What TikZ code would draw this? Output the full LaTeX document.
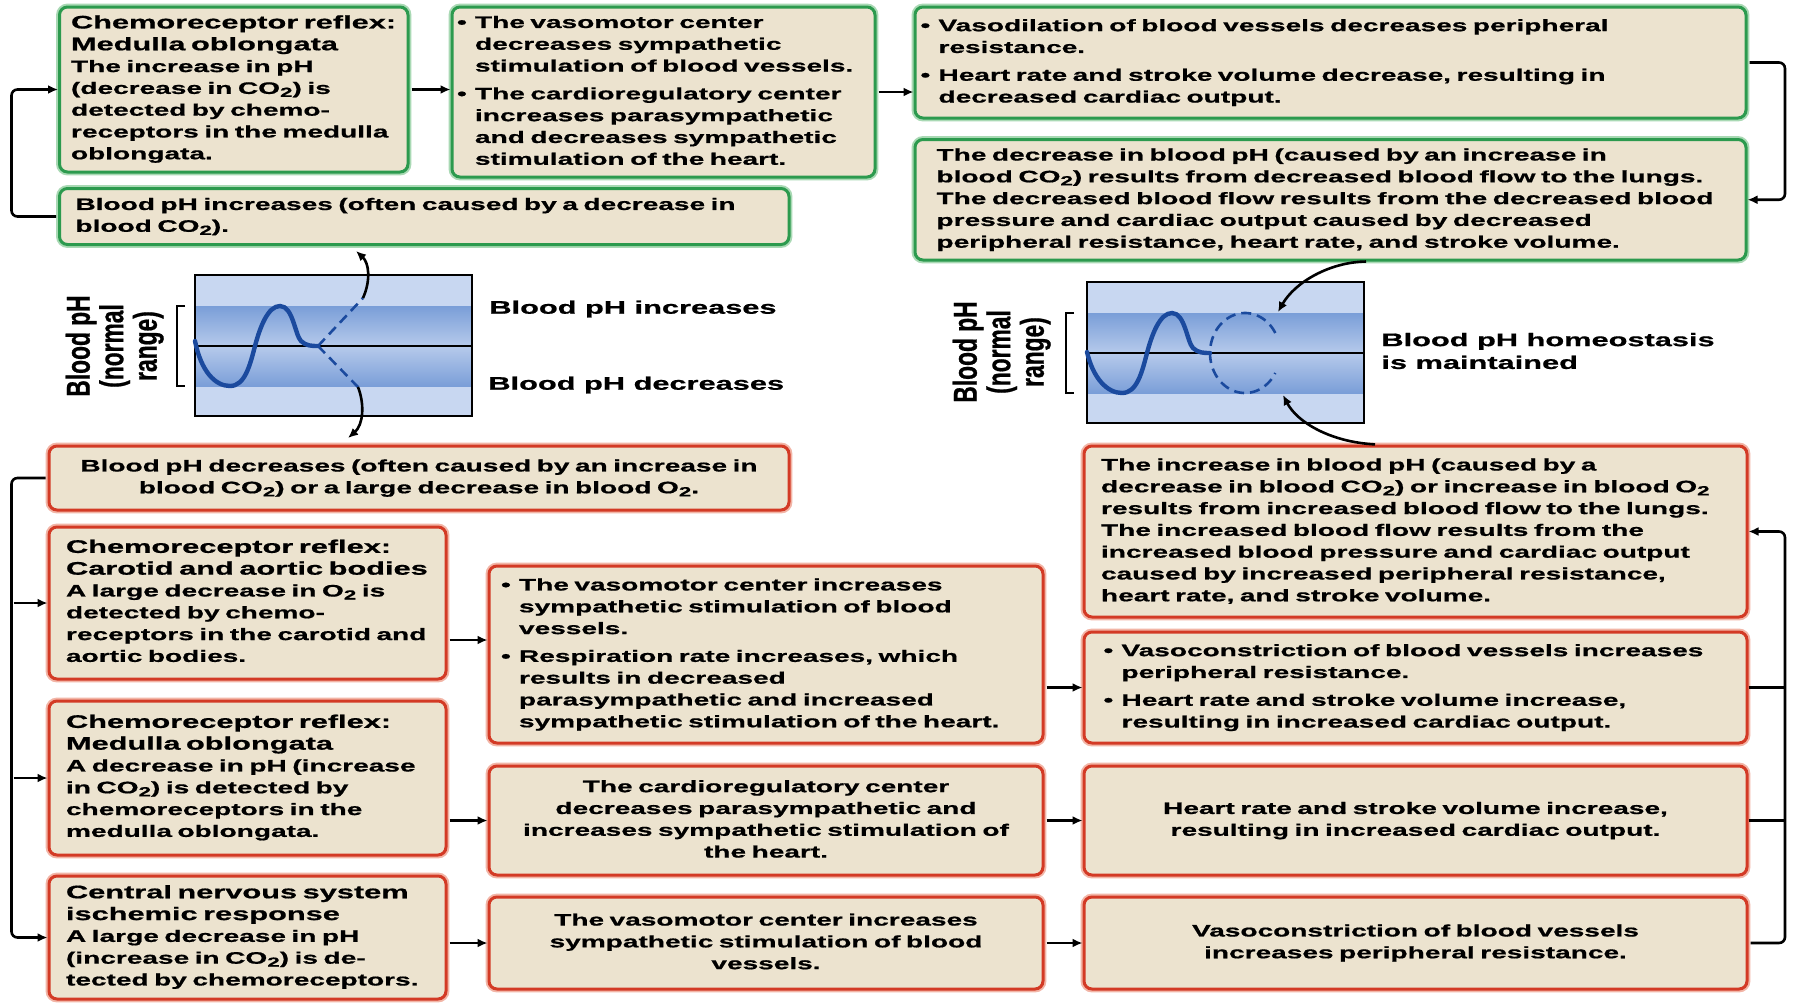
\documentclass[tikz,border=0pt]{standalone}
\usepackage{fontspec}
\usepackage{graphicx}
\usetikzlibrary{arrows.meta,calc}
\newfontfamily\widesans{Liberation Sans}[FakeStretch=1.69, FakeBold=0.8]
\newfontfamily\plainsans{Liberation Sans}[FakeBold=0.8]
\newcommand\subtwo{\raisebox{-0.35ex}{\scalebox{0.8}{2}}}
\newcommand\hd[1]{{\fontsize{9.1}{11.4}\selectfont #1}}
\newcommand\bu{\makebox[9pt][l]{\textbullet}}
\definecolor{boxfill}{HTML}{ECE3CF}
\definecolor{grnline}{HTML}{2C9A4E}
\definecolor{grnglow}{HTML}{A9D9B4}
\definecolor{redline}{HTML}{D33A25}
\definecolor{redglow}{HTML}{F2B5A6}
\definecolor{bandlight}{HTML}{C8D7F1}
\definecolor{banddark}{HTML}{7A9ED8}
\definecolor{bandmid}{HTML}{B6CAEB}
\definecolor{wavecol}{HTML}{1B4A9E}
\tikzset{
  txt/.style={font=\widesans\bfseries\fontsize{8.3}{10.9}\selectfont},
  hdtxt/.style={font=\widesans\bfseries\fontsize{9.1}{11.4}\selectfont, inner sep=0pt},
  box/.style={txt, rounded corners=4pt, fill=boxfill, line width=1.5pt, inner ysep=0pt, anchor=center},
  gbox/.style={box, draw=grnline, preaction={draw=grnglow, line width=3.4pt}},
  rbox/.style={box, draw=redline, preaction={draw=redglow, line width=3.4pt}},
  conn/.style={line width=1.3pt, rounded corners=3pt},
  arr/.style={conn, -{Latex[length=5pt,width=4.5pt]}, shorten <=1pt},
  wavepen/.style={draw=wavecol, line width=2.2pt, line cap=round},
  dashpen/.style={draw=wavecol, line width=1.3pt, dash pattern=on 5pt off 3pt},
  ylab/.style={rotate=90, inner sep=0pt, font=\plainsans\bfseries\fontsize{11.4}{11}\selectfont},
}
\begin{document}
\begin{tikzpicture}[x=0.5pt, y=-0.5pt]
\fill[white] (0,0) rectangle (1793,1002);
\useasboundingbox (0,0) rectangle (1793,1002);

% ---------- upper (green) loop ----------
\node[gbox, minimum width=174.25pt, minimum height=82.5pt, text width=162.75pt, inner xsep=5.75pt, align=left] (A) at (233.75,89.5)
 {\begin{tabular}{@{}l@{}}\hd{Chemoreceptor reflex:}\\ \hd{Medulla oblongata}\\ The increase in pH\\ (decrease in CO\subtwo) is\\ detected by chemo-\\ receptors in the medulla\\ oblongata.\end{tabular}};
\node[gbox, minimum width=211.5pt, minimum height=85pt, text width=206.5pt, inner xsep=2.5pt, align=left] (B) at (663.5,92)
 {\begin{tabular}{@{}l@{}l@{}}\bu&The vasomotor center\\ &decreases sympathetic\\ &stimulation of blood vessels.\\[3pt] \bu&The cardioregulatory center\\ &increases parasympathetic\\ &and decreases sympathetic\\ &stimulation of the heart.\end{tabular}};
\node[gbox, minimum width=415.5pt, minimum height=55.5pt, text width=410pt, inner xsep=2.75pt, align=left] (C) at (1330.5,62.5)
 {\begin{tabular}{@{}l@{}l@{}}\bu&Vasodilation of blood vessels decreases peripheral\\ &resistance.\\[3pt] \bu&Heart rate and stroke volume decrease, resulting in\\ &decreased cardiac output.\end{tabular}};
\node[gbox, minimum width=415.5pt, minimum height=60.25pt, text width=394pt, inner xsep=10.75pt, align=left] (D) at (1330.5,199.75)
 {\begin{tabular}{@{}l@{}}The decrease in blood pH (caused by an increase in\\ blood CO\subtwo) results from decreased blood flow to the lungs.\\ The decreased blood flow results from the decreased blood\\ pressure and cardiac output caused by decreased\\ peripheral resistance, heart rate, and stroke volume.\end{tabular}};
\node[gbox, minimum width=364.75pt, minimum height=28pt, text width=348.75pt, inner xsep=8pt, align=left] (E) at (424.25,216.5)
 {\begin{tabular}{@{}l@{}}Blood pH increases (often caused by a decrease in\\ blood CO\subtwo).\end{tabular}};

% ---------- lower (red) loop ----------
\node[rbox, minimum width=370pt, minimum height=32pt, text width=354pt, inner xsep=8pt, align=center] (F) at (419,478)
 {\begin{tabular}{@{}c@{}}Blood pH decreases (often caused by an increase in\\ blood CO\subtwo) or a large decrease in blood O\subtwo.\end{tabular}};
\node[rbox, minimum width=198.5pt, minimum height=76pt, text width=181.5pt, inner xsep=8.5pt, align=left] (G) at (247.5,603)
 {\begin{tabular}{@{}l@{}}\hd{Chemoreceptor reflex:}\\ \hd{Carotid and aortic bodies}\\ A large decrease in O\subtwo{} is\\ detected by chemo-\\ receptors in the carotid and\\ aortic bodies.\end{tabular}};
\node[rbox, minimum width=198.5pt, minimum height=77pt, text width=181.5pt, inner xsep=8.5pt, align=left] (H) at (247.5,778)
 {\begin{tabular}{@{}l@{}}\hd{Chemoreceptor reflex:}\\ \hd{Medulla oblongata}\\ A decrease in pH (increase\\ in CO\subtwo) is detected by\\ chemoreceptors in the\\ medulla oblongata.\end{tabular}};
\node[rbox, minimum width=198.5pt, minimum height=61.5pt, text width=181.5pt, inner xsep=8.5pt, align=left] (I) at (247.5,937.5)
 {\begin{tabular}{@{}l@{}}\hd{Central nervous system}\\ \hd{ischemic response}\\ A large decrease in pH\\ (increase in CO\subtwo) is de-\\ tected by chemoreceptors.\end{tabular}};
\node[rbox, minimum width=277pt, minimum height=88.5pt, text width=265pt, inner xsep=6pt, align=left] (J) at (766,654.5)
 {\begin{tabular}{@{}l@{}l@{}}\bu&The vasomotor center increases\\ &sympathetic stimulation of blood\\ &vessels.\\[3pt] \bu&Respiration rate increases, which\\ &results in decreased\\ &parasympathetic and increased\\ &sympathetic stimulation of the heart.\end{tabular}};
\node[rbox, minimum width=277pt, minimum height=54.5pt, text width=261pt, inner xsep=8pt, align=center] (K) at (766,820.5)
 {\begin{tabular}{@{}c@{}}The cardioregulatory center\\ decreases parasympathetic and\\ increases sympathetic stimulation of\\ the heart.\end{tabular}};
\node[rbox, minimum width=277pt, minimum height=46pt, text width=261pt, inner xsep=8pt, align=center] (L) at (766,943)
 {\begin{tabular}{@{}c@{}}The vasomotor center increases\\ sympathetic stimulation of blood\\ vessels.\end{tabular}};
\node[rbox, minimum width=331.5pt, minimum height=85.5pt, text width=314.5pt, inner xsep=8.5pt, align=left] (M) at (1415.5,531.5)
 {\begin{tabular}{@{}l@{}}The increase in blood pH (caused by a\\ decrease in blood CO\subtwo) or increase in blood O\subtwo\\ results from increased blood flow to the lungs.\\ The increased blood flow results from the\\ increased blood pressure and cardiac output\\ caused by increased peripheral resistance,\\ heart rate, and stroke volume.\end{tabular}};
\node[rbox, minimum width=331.5pt, minimum height=55.5pt, text width=312pt, inner xsep=9.75pt, align=left] (N) at (1415.5,687.5)
 {\begin{tabular}{@{}l@{}l@{}}\bu&Vasoconstriction of blood vessels increases\\ &peripheral resistance.\\[3pt] \bu&Heart rate and stroke volume increase,\\ &resulting in increased cardiac output.\end{tabular}};
\node[rbox, minimum width=331.5pt, minimum height=54.5pt, text width=315.5pt, inner xsep=8pt, align=center] (O) at (1415.5,820.5)
 {\begin{tabular}{@{}c@{}}Heart rate and stroke volume increase,\\ resulting in increased cardiac output.\end{tabular}};
\node[rbox, minimum width=331.5pt, minimum height=46pt, text width=315.5pt, inner xsep=8pt, align=center] (P) at (1415.5,943)
 {\begin{tabular}{@{}c@{}}Vasoconstriction of blood vessels\\ increases peripheral resistance.\end{tabular}};

% ---------- pH graphs ----------
\begin{scope}[shift={(195,275)}]
  \fill[bandlight] (0,0) rectangle (277,141);
  \shade[top color=banddark, bottom color=bandmid] (0,31) rectangle (277,71);
  \shade[top color=bandmid, bottom color=banddark] (0,71) rectangle (277,111);
  \draw[line width=1pt] (0,71) -- (277,71);
  \draw[line width=1.3pt] (0,0) rectangle (277,141);
  \draw[line width=1.2pt] (-10,31) -- (-18,31) -- (-18,111) -- (-10,111);
  \draw[wavepen] (0,66) .. controls (6,96) and (20,111) .. (35,111) .. controls (50,111) and (55,90) .. (60,71) .. controls (65,52) and (73,31) .. (85,31) .. controls (98,31) and (100,60) .. (106,66) .. controls (111,71) and (117,71) .. (123,71);
  \draw[dashpen] (123,71) -- (168,23);
  \draw[dashpen] (123,71) -- (163,112);
  \coordinate (gup) at (161,-24);
  \coordinate (gdn) at (153,163);
  \draw[arr, shorten <=0pt] (168,23) .. controls (176,5) and (174,-12) .. (gup);
  \draw[arr, shorten <=0pt] (163,112) .. controls (170,130) and (168,150) .. (gdn);
\end{scope}
\node[ylab] (ylabL) at (116,346) {\scalebox{1}[1.45]{\begin{tabular}{@{}c@{}}Blood pH\\(normal\\range)\end{tabular}}};
\node[hdtxt, anchor=west] (lblup) at (489,309) {Blood pH increases};
\node[hdtxt, anchor=west] (lbldn) at (488,385) {Blood pH decreases};

\begin{scope}[shift={(1087,282)}]
  \fill[bandlight] (0,0) rectangle (277,141);
  \shade[top color=banddark, bottom color=bandmid] (0,31) rectangle (277,71);
  \shade[top color=bandmid, bottom color=banddark] (0,71) rectangle (277,111);
  \draw[line width=1pt] (0,71) -- (277,71);
  \draw[line width=1.3pt] (0,0) rectangle (277,141);
  \draw[line width=1.2pt] (-13,31) -- (-21,31) -- (-21,111) -- (-13,111);
  \draw[wavepen] (0,70) .. controls (6,96) and (20,111) .. (35,111) .. controls (50,111) and (55,90) .. (60,71) .. controls (65,52) and (73,31) .. (85,31) .. controls (98,31) and (100,60) .. (106,66) .. controls (111,71) and (117,71) .. (123,71);
  \draw[dashpen] plot[domain=30:180, samples=40] ({158+35*cos(\x)}, {71-40*sin(\x)});
  \draw[dashpen] plot[domain=180:330, samples=40] ({158+35*cos(\x)}, {71-40*sin(\x)});
  \coordinate (hup) at (191,30);
  \coordinate (hdn) at (196,113);
\end{scope}
\node[ylab] (ylabR) at (1003,352) {\scalebox{1}[1.45]{\begin{tabular}{@{}c@{}}Blood pH\\(normal\\range)\end{tabular}}};
\node[hdtxt, anchor=west, align=left] (lblok) at (1381,351) {Blood pH homeostasis\\is maintained};
\draw[arr] ($(D.south)+(37.5,0)$) .. controls (1330,262) and (1295,282) .. (hup);
\draw[arr] ($(M.north)+(-38.5,0)$) .. controls (1330,442) and (1297,422) .. (hdn);

% ---------- connectors ----------
\coordinate (lft) at (11.5,0);
\coordinate (rgt) at (1785,0);
\draw[arr] (A.east) -- (A.east -| B.west);
\draw[arr] (B.east) -- (B.east -| C.west);
\draw[arr] (C.east) -- (C.east -| rgt) -- (D.east -| rgt) -- (D.east);
\draw[arr] (E.west) -- (E.west -| lft) -- (A.west -| lft) -- (A.west);

\draw[arr] (F.west) -- (F.west -| lft) -- (I.west -| lft) -- (I.west);
\draw[arr] (G.west -| lft) -- (G.west);
\draw[arr] (H.west -| lft) -- (H.west);
\coordinate (gj) at ($(G.east)+(0,37)$);
\draw[arr] (gj) -- (gj -| J.west);
\draw[arr] (K.west -| H.east) -- (K.west);
\draw[arr] (L.west -| I.east) -- (L.west);
\draw[arr] (N.west -| J.east) -- (N.west);
\draw[arr] (K.east) -- (O.west);
\draw[arr] (L.east) -- (P.west);
\draw[arr] (P.east) -- (P.east -| rgt) -- (M.east -| rgt) -- (M.east);
\draw[conn] (N.east) -- (N.east -| rgt);
\draw[conn] (O.east) -- (O.east -| rgt);
\end{tikzpicture}
\end{document}
